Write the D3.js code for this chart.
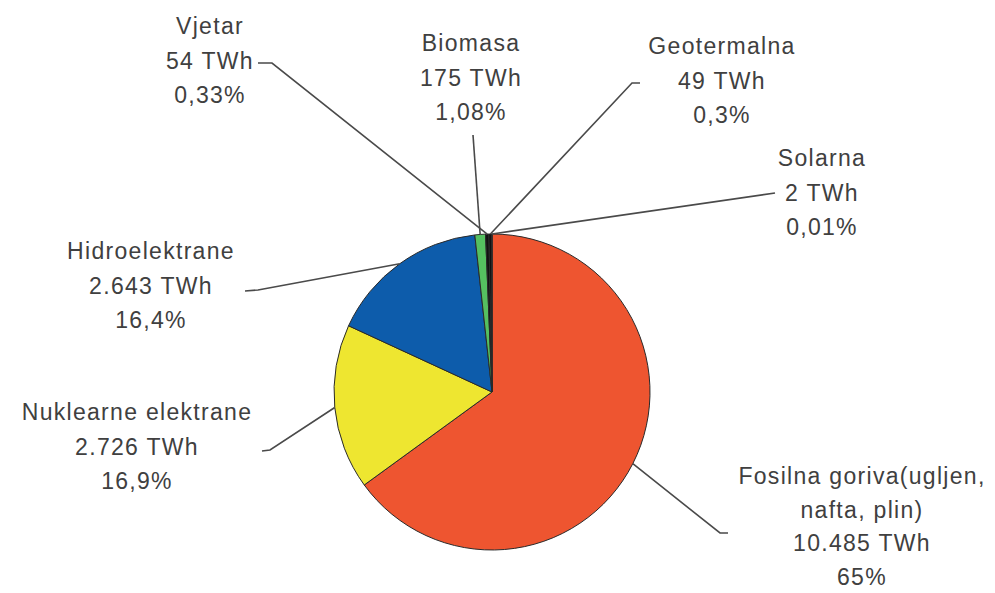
<!DOCTYPE html>
<html>
<head>
<meta charset="utf-8">
<script src="https://cdn.jsdelivr.net/npm/d3@7"></script>
<style>
  html, body { margin: 0; padding: 0; background: #ffffff; }
  svg { display: block; }
  .lbl { font-family: "Liberation Sans", Arial, sans-serif; font-size: 23px; fill: #404040; letter-spacing: 1.3px; }
</style>
</head>
<body>
<svg id="chart" width="995" height="593"></svg>
<script>
// ---- data ----
const categories = ["Fosilna goriva(ugljen, nafta, plin)", "Nuklearne elektrane", "Hidroelektrane", "Biomasa", "Vjetar", "Geotermalna", "Solarna"];
const nameLines = [["Fosilna goriva(ugljen,", "nafta, plin)"], ["Nuklearne elektrane"], ["Hidroelektrane"], ["Biomasa"], ["Vjetar"], ["Geotermalna"], ["Solarna"]];
const values = [10485, 2726, 2643, 175, 54, 49, 2];
const valueLabels = ["10.485 TWh", "2.726 TWh", "2.643 TWh", "175 TWh", "54 TWh", "49 TWh", "2 TWh"];
const percentLabels = ["65%", "16,9%", "16,4%", "1,08%", "0,33%", "0,3%", "0,01%"];
const colors = ["#ee5530", "#eee630", "#0d5cab", "#55c060", "#111111", "#111111", "#111111"];

// ---- layout (positions) ----
const cx = 492, cy = 392, R = 158;
const layout = [
  { tx: 862, ty: 478, lh: 33.5, tip: [728, 533], elbow: [720, 533] },
  { tx: 137, ty: 414, lh: 34.5, tip: [262, 451], elbow: [270, 450] },
  { tx: 151, ty: 253, lh: 34.5, tip: [245, 291], elbow: [258, 290] },
  { tx: 471, ty: 45,  lh: 34.5, tip: [473, 135], elbow: [473, 135] },
  { tx: 210, ty: 28,  lh: 34.5, tip: [258, 63],  elbow: [272, 63] },
  { tx: 722, ty: 48,  lh: 34.5, tip: [640, 83],  elbow: [632, 83] },
  { tx: 822, ty: 160, lh: 34.5, tip: [775, 193], elbow: [775, 193] }
];

const svg = d3.select("#chart");
const g = svg.append("g").attr("transform", `translate(${cx},${cy})`);

const pie = d3.pie().sort(null).value(d => d).startAngle(0).endAngle(2 * Math.PI);
const arcs = pie(values);
const arc = d3.arc().innerRadius(0).outerRadius(R);
const color = d3.scaleOrdinal().domain(d3.range(values.length)).range(colors);

// leader lines
const lines = svg.append("g");
arcs.forEach((a, i) => {
  const mid = (a.startAngle + a.endAngle) / 2;
  const px = cx + R * Math.sin(mid), py = cy - R * Math.cos(mid);
  const L = layout[i];
  lines.append("path")
    .attr("d", d3.line()([[px, py], L.elbow, L.tip]))
    .attr("fill", "none")
    .attr("stroke", "#4a4a4a")
    .attr("stroke-width", 1.6);
});

g.selectAll("path.slice")
  .data(arcs)
  .join("path")
  .attr("class", "slice")
  .attr("d", arc)
  .attr("fill", (d, i) => color(i))
  .attr("stroke", "#2a2a2a")
  .attr("stroke-width", 1);

// labels
const lg = svg.append("g");
arcs.forEach((a, i) => {
  const L = layout[i];
  const allLines = nameLines[i].concat([valueLabels[i], percentLabels[i]]);
  const t = lg.append("text").attr("class", "lbl").attr("text-anchor", "middle");
  allLines.forEach((s, k) => {
    t.append("tspan")
      .attr("x", L.tx)
      .attr("y", L.ty + k * L.lh)
      .attr("dominant-baseline", "middle")
      .text(s);
  });
});
</script>
</body>
</html>
